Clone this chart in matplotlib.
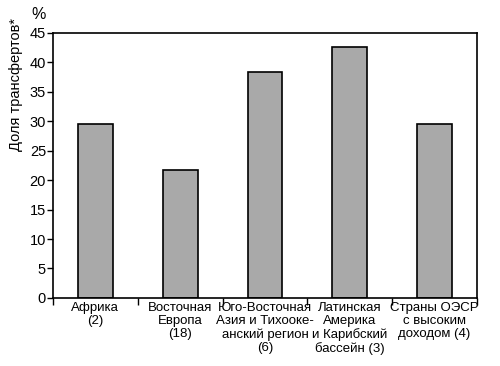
import matplotlib
matplotlib.use("Agg")
import matplotlib.pyplot as plt
import numpy as np

regions = ["Африка\n(2)", "Восточная\nЕвропа\n(18)", "Юго-Восточная\nАзия и Тихооке-\nанский регион\n(6)",
           "Латинская\nАмерика\nи Карибский\nбассейн (3)", "Страны ОЭСР\nс высоким\nдоходом (4)"]
shares = [29.6, 21.7, 38.4, 42.6, 29.5]
yticks = [0, 5, 10, 15, 20, 25, 30, 35, 40, 45]

plt.rcParams['font.family'] = ['Liberation Sans', 'DejaVu Sans']
plt.rcParams['font.size'] = 9.5

fig = plt.figure(figsize=(5, 3.66), dpi=100)
ax = fig.add_axes([0.106, 0.186, 0.848, 0.724])

x = np.arange(len(regions))
ax.bar(x, shares, width=0.41, color="#a9a9a9", edgecolor="black", linewidth=1.2)

ax.set_xlim(-0.5, len(regions) - 0.5)
ax.set_ylim(0, 45)
ax.set_yticks(yticks)
ax.set_xticks(x)
ax.set_xticklabels(regions, linespacing=1.12)
ax.tick_params(axis="x", length=0, pad=3)
ax.set_xticks(np.arange(len(regions) + 1) - 0.5, minor=True)
ax.tick_params(axis="x", which="minor", length=5, width=1, direction="out")
ax.tick_params(axis="y", length=4, width=1, direction="out", pad=1, labelsize=10.5)
for s in ax.spines.values():
    s.set_linewidth(1.2)

ax.text(-0.05, 1.04, "%", transform=ax.transAxes, fontsize=11.5, ha="left", va="bottom")
fig.text(0.032, 0.77, "Доля трансфертов*", rotation=90, ha="center", va="center", fontsize=10.5)

fig.savefig("out.png", dpi=100)
